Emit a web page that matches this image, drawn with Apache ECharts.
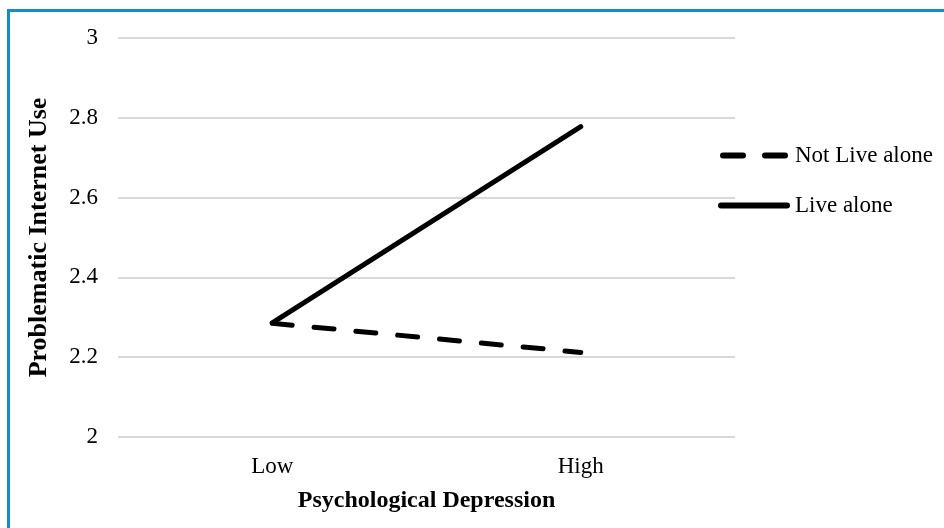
<!DOCTYPE html>
<html>
<head>
<meta charset="utf-8">
<script src="https://cdn.jsdelivr.net/npm/echarts@6/dist/echarts.min.js"></script>
<style>
  html, body { margin: 0; padding: 0; background: #fff; }
  #frame {
    position: absolute; left: 7px; top: 9px; right: 0; bottom: 0;
    border-left: 3px solid #1a8ac4; border-top: 3px solid #1a8ac4;
  }
  #container { position: absolute; left: 0; top: 0; width: 944px; height: 528px; }
</style>
</head>
<body>
<div id="frame"></div>
<div id="container"></div>
<script>
// levels of psychological depression
var categories = ["Low", "High"];
// problematic internet use
var notLiveAlone = [2.285, 2.212];
var liveAlone = [2.286, 2.778];
var yTicks = { min: 2, max: 3, interval: 0.2 };

var serif = "'Liberation Serif', 'DejaVu Serif', serif";

var chart = echarts.init(document.getElementById("container"), null, { renderer: "canvas" });

var option = {
    animation: false,
    textStyle: { fontFamily: serif, color: "#000" },
    grid: { left: 118, right: 209, top: 38, bottom: 91 },
    legend: {
        orient: "vertical",
        left: 713,
        top: 139,
        itemWidth: 72,
        itemHeight: 6,
        itemGap: 27,
        textStyle: { fontFamily: serif, fontSize: 23, color: "#000" },
        data: [
            { name: "Not Live alone", icon: "path://M3,0h20a3,3 0 0 1 0,6h-20a3,3 0 0 1 0,-6z M45,0h20a3,3 0 0 1 0,6h-20a3,3 0 0 1 0,-6z" },
            { name: "Live alone", icon: "path://M3,0h66a3,3 0 0 1 0,6h-66a3,3 0 0 1 0,-6z" }
        ]
    },
    xAxis: {
        type: "category",
        data: categories,
        boundaryGap: true,
        axisLine: { show: false },
        axisTick: { show: false },
        axisLabel: { fontFamily: serif, fontSize: 23, color: "#000", margin: 18 },
        name: "Psychological Depression",
        nameLocation: "middle",
        nameGap: 52,
        nameTextStyle: { fontFamily: serif, fontSize: 24, fontWeight: "bold", color: "#000" }
    },
    yAxis: {
        type: "value",
        min: yTicks.min,
        max: yTicks.max,
        interval: yTicks.interval,
        axisLine: { show: false },
        axisTick: { show: false },
        splitLine: { lineStyle: { color: "#d9d9d9", width: 2 } },
        axisLabel: {
            fontFamily: serif, fontSize: 23, color: "#000", margin: 20,
            formatter: function (v) { return String(Math.round(v * 10) / 10); }
        },
        name: "Problematic Internet Use",
        nameLocation: "middle",
        nameGap: 66,
        nameTextStyle: { fontFamily: serif, fontSize: 26, fontWeight: "bold", color: "#000" }
    },
    series: [
        {
            name: "Not Live alone",
            type: "line",
            data: notLiveAlone,
            symbol: "none",
            lineStyle: { color: "#000", width: 5, type: [20, 22], cap: "round" },
            itemStyle: { color: "#000" }
        },
        {
            name: "Live alone",
            type: "line",
            data: liveAlone,
            symbol: "none",
            lineStyle: { color: "#000", width: 5, cap: "round" },
            itemStyle: { color: "#000" }
        }
    ]
};

chart.setOption(option);
</script>
</body>
</html>
